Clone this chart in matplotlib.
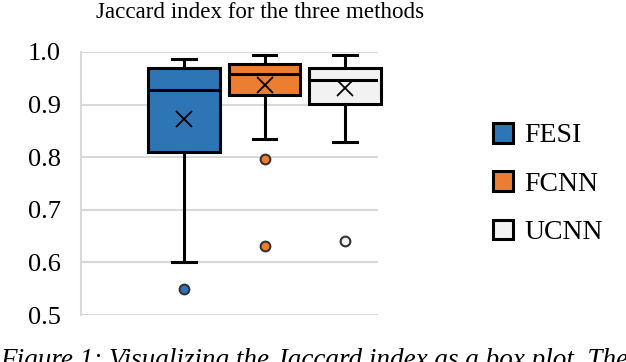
import matplotlib
matplotlib.use('Agg')
from matplotlib import pyplot as plt
from matplotlib.patches import Patch

plt.rcParams['font.family'] = 'Liberation Serif'

# data
methods = ['FESI', 'FCNN', 'UCNN']
colors = ['#2E75B6', '#ED7D31', '#F2F2F2']
whislo = [0.600, 0.835, 0.828]
q1 = [0.810, 0.919, 0.902]
med = [0.927, 0.959, 0.946]
q3 = [0.970, 0.978, 0.970]
whishi = [0.986, 0.994, 0.994]
means = [0.872, 0.938, 0.931]
fliers = [[0.550], [0.797, 0.632], [0.640]]

stats = []
for i in range(len(methods)):
    stats.append(dict(label=methods[i], whislo=whislo[i], q1=q1[i], med=med[i],
                      q3=q3[i], whishi=whishi[i], mean=means[i], fliers=fliers[i]))

W, H = 626, 362
fig = plt.figure(figsize=(W/100, H/100), dpi=100)
ax = fig.add_axes([81/W, (H-315)/H, (378-81)/W, (315-52)/H])

lw = 2.2
bp = ax.bxp(stats, positions=[1, 2, 3], widths=0.89, patch_artist=True,
            showmeans=True,
            boxprops=dict(linewidth=lw, edgecolor='black'),
            medianprops=dict(color='black', linewidth=lw),
            whiskerprops=dict(color='black', linewidth=lw),
            capprops=dict(color='black', linewidth=lw),
            capwidths=0.29,
            meanprops=dict(marker='x', markeredgecolor='black', markersize=11,
                           markeredgewidth=1.3))
for i, b in enumerate(bp['boxes']):
    b.set_facecolor(colors[i])
    b.set_clip_on(False)
for i, f in enumerate(bp['fliers']):
    f.set(marker='o', markerfacecolor=colors[i], markeredgecolor='#333333',
          markersize=7, markeredgewidth=1.5)

ax.set_xlim(-0.28, 3.41)
ax.set_ylim(0.5, 1.0)
ax.set_yticks([0.5, 0.6, 0.7, 0.8, 0.9, 1.0])
ax.set_yticklabels(['0.5', '0.6', '0.7', '0.8', '0.9', '1.0'])
ax.set_xticks([])
ax.yaxis.grid(True, color='#D9D9D9', linewidth=1.5)
ax.set_axisbelow(True)
for s in ['top', 'right', 'bottom']:
    ax.spines[s].set_visible(False)
ax.spines['left'].set_color('#D9D9D9')
ax.spines['left'].set_linewidth(1.5)
ax.tick_params(axis='y', length=0, labelsize=19, pad=14.5)

fig.text(260/W, 1 - 12/H, 'Jaccard index for the three methods', ha='center',
         va='center', fontsize=16.6)

handles = [Patch(facecolor=c, edgecolor='black', linewidth=2.2) for c in colors]
fig.legend(handles, methods, loc='center left', bbox_to_anchor=(468/W, 1 - 184/H),
           frameon=False, fontsize=20, handlelength=0.72, handleheight=0.72,
           labelspacing=0.82, handletextpad=0.4)

# caption cut off at the bottom edge
fig.text(0, 0.005, 'Figure 1: Visualizing the Jaccard index as a box plot. The',
         ha='left', va='center', fontsize=19.5, style='italic')

fig.savefig('out.png', dpi=100)
